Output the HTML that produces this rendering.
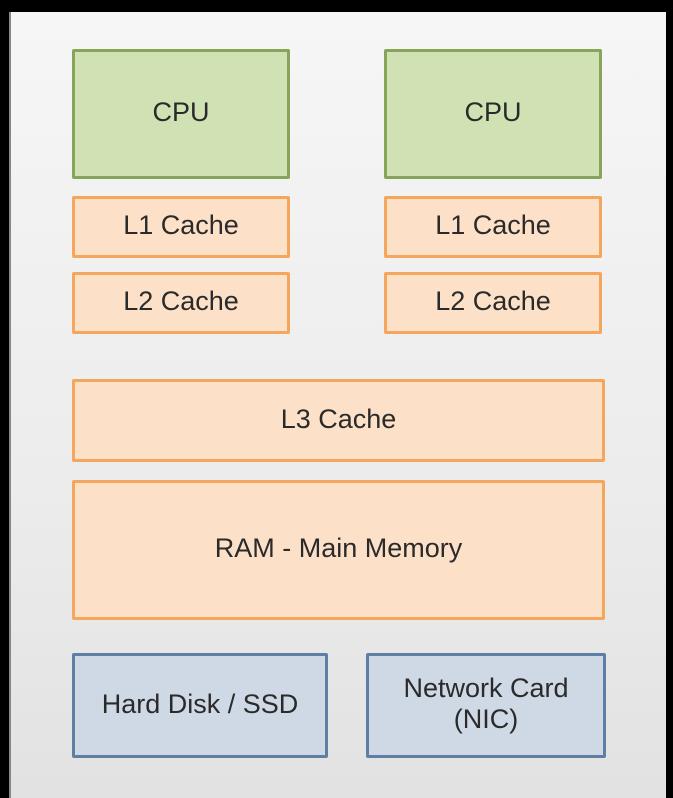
<!DOCTYPE html>
<html><head><style>
body{margin:0;width:673px;height:798px;background:#000;position:relative;overflow:hidden;font-family:"Liberation Sans",sans-serif;}
.bg{position:absolute;left:9px;top:12px;width:655px;height:786px;background:linear-gradient(#f6f6f6,#ececec 60%,#e2e2e2);border-left:2px solid #888;}
.b{position:absolute;box-sizing:border-box;display:flex;align-items:center;justify-content:center;text-align:center;font-size:27px;color:#2a2a2a;border-radius:2px;line-height:31px;padding-bottom:3px;}
.g{background:#d0e1b4;border:3px solid #86a45a;}
.o{background:#fde0c8;border:3px solid #f4a65c;}
.u{background:#cfd9e6;border:3px solid #5f7ea3;}
</style></head><body>
<div class="bg"></div>
<div class="b g" style="left:72px;top:49px;width:218px;height:130px">CPU</div>
<div class="b g" style="left:384px;top:49px;width:218px;height:130px">CPU</div>
<div class="b o" style="left:72px;top:196px;width:218px;height:62px">L1 Cache</div>
<div class="b o" style="left:384px;top:196px;width:218px;height:62px">L1 Cache</div>
<div class="b o" style="left:72px;top:272px;width:218px;height:62px">L2 Cache</div>
<div class="b o" style="left:384px;top:272px;width:218px;height:62px">L2 Cache</div>
<div class="b o" style="left:72px;top:379px;width:533px;height:83px">L3 Cache</div>
<div class="b o" style="left:72px;top:480px;width:533px;height:140px">RAM - Main Memory</div>
<div class="b u" style="left:72px;top:653px;width:256px;height:105px">Hard Disk / SSD</div>
<div class="b u" style="left:366px;top:653px;width:240px;height:105px">Network Card<br>(NIC)</div>
</body></html>
